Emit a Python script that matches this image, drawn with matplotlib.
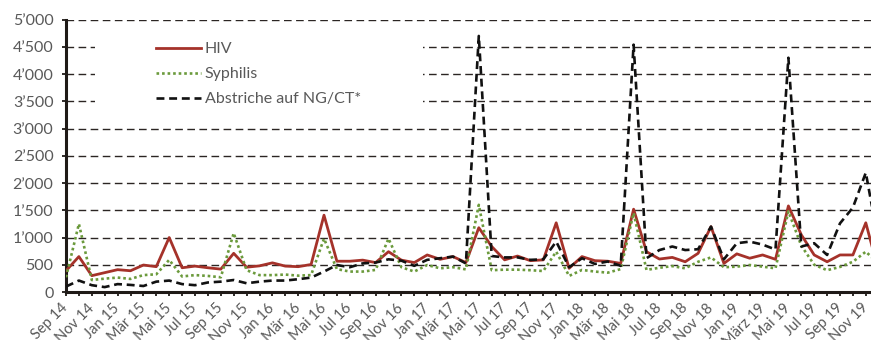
import matplotlib.pyplot as plt
from matplotlib.patches import Rectangle
from matplotlib.ticker import FuncFormatter

# Monthly counts, Sep 2014 - Dec 2019
months = [
    "Sep 14", "Okt 14", "Nov 14", "Dez 14",
    "Jan 15", "Feb 15", "Mär 15", "Apr 15", "Mai 15", "Jun 15",
    "Jul 15", "Aug 15", "Sep 15", "Okt 15", "Nov 15", "Dez 15",
    "Jan 16", "Feb 16", "Mär 16", "Apr 16", "Mai 16", "Jun 16",
    "Jul 16", "Aug 16", "Sep 16", "Okt 16", "Nov 16", "Dez 16",
    "Jan 17", "Feb 17", "Mär 17", "Apr 17", "Mai 17", "Jun 17",
    "Jul 17", "Aug 17", "Sep 17", "Okt 17", "Nov 17", "Dez 17",
    "Jan 18", "Feb 18", "Mär 18", "Apr 18", "Mai 18", "Jun 18",
    "Jul 18", "Aug 18", "Sep 18", "Okt 18", "Nov 18", "Dez 18",
    "Jan 19", "Feb 19", "März 19", "Apr 19", "Mai 19", "Jun 19",
    "Jul 19", "Aug 19", "Sep 19", "Okt 19", "Nov 19", "Dez 19",
]

hiv = [
    390, 650, 300, 355, 410, 390, 495, 465, 1000, 445,
    475, 445, 420, 710, 455, 480, 535, 475, 465, 505,
    1410, 565, 565, 585, 540, 740, 585, 540, 680, 600,
    650, 540, 1180, 835, 590, 660, 575, 590, 1270, 435,
    650, 575, 565, 525, 1520, 740, 605, 635, 555, 710,
    1200, 525, 700, 620, 680, 600, 1580, 1050, 680, 555,
    680, 680, 1270, 380,
]

syphilis = [
    270, 1250, 220, 245, 265, 240, 310, 325, 590, 285,
    310, 295, 270, 1080, 400, 310, 310, 320, 300, 310,
    980, 420, 375, 375, 405, 980, 455, 375, 495, 435,
    455, 415, 1600, 400, 410, 410, 400, 385, 740, 295,
    405, 375, 355, 420, 1450, 405, 445, 475, 435, 555,
    635, 455, 465, 495, 465, 435, 1480, 850, 500, 400,
    460, 555, 740, 520,
]

ngct = [
    100, 210, 125, 90, 145, 130, 110, 190, 210, 145,
    125, 175, 190, 220, 160, 190, 210, 210, 235, 265,
    375, 495, 455, 525, 540, 600, 575, 480, 590, 620,
    650, 525, 4700, 660, 635, 635, 590, 600, 925, 455,
    620, 515, 560, 480, 4540, 620, 770, 835, 770, 785,
    1200, 600, 895, 925, 870, 780, 4300, 835, 895, 680,
    1260, 1550, 2190, 900,
]

plt.rcParams['font.family'] = ['Lato', 'DejaVu Sans']
text_grey = '#595959'
axis_dark = '#1f1a17'

fig = plt.figure(figsize=(8.71, 3.40), dpi=100)
ax = fig.add_axes([66 / 871, 48 / 340, 805 / 871, 272.4 / 340])

x = list(range(len(months)))
ax.plot(x, hiv, color='#A5322A', lw=2.0, label='HIV', zorder=3)
ax.plot(x, syphilis, color='#6B9A3C', lw=1.9, linestyle=(0, (1, 1.1)),
        label='Syphilis', zorder=4)
ax.plot(x, ngct, color='#111111', lw=1.9, linestyle=(0, (3.0, 1.8)),
        label='Abstriche auf NG/CT*', zorder=5)

ax.set_yticks(range(0, 5001, 500))
ax.yaxis.set_major_formatter(
    FuncFormatter(lambda v, p: f"{int(v):,}".replace(",", "\u2019")))
ax.set_xticks(x)
ax.set_xticklabels([m if i % 2 == 0 else "" for i, m in enumerate(months)],
                   rotation=45, ha='right', va='center',
                   rotation_mode='anchor')

# the series runs on past the right border (limits set after the ticks)
ax.set_xlim(0, 805 / 12.9)
ax.set_ylim(0, 5000)

ax.tick_params(axis='y', direction='out', length=3, width=1.3,
               colors=axis_dark, labelcolor=text_grey, labelsize=11.5, pad=6)
ax.tick_params(axis='x', direction='out', length=3, width=1.3,
               colors=axis_dark, labelcolor=text_grey, labelsize=10.5, pad=7)

for side in ('top', 'right'):
    ax.spines[side].set_visible(False)
for side in ('left', 'bottom'):
    ax.spines[side].set_color(axis_dark)
    ax.spines[side].set_linewidth(2.2)

ax.yaxis.grid(True, color='#2b2523', lw=1.0, linestyle=(0, (5.5, 3.2)),
              zorder=1)
ax.set_axisbelow(True)

# white area behind the legend hides the grid there
ax.add_patch(Rectangle((0.036, 0.65), 0.408, 0.312, transform=ax.transAxes,
                       facecolor='white', edgecolor='none', zorder=2))

leg = ax.legend(loc='upper left', bbox_to_anchor=(156 / 871, 1 - 42 / 340),
                bbox_transform=fig.transFigure, frameon=False,
                fontsize=11.5, handlelength=2.8, handletextpad=0.25,
                labelspacing=0.68, borderpad=0, borderaxespad=0)
for t in leg.get_texts():
    t.set_color(text_grey)
leg.set_zorder(6)

fig.savefig('out.png', dpi=100)
